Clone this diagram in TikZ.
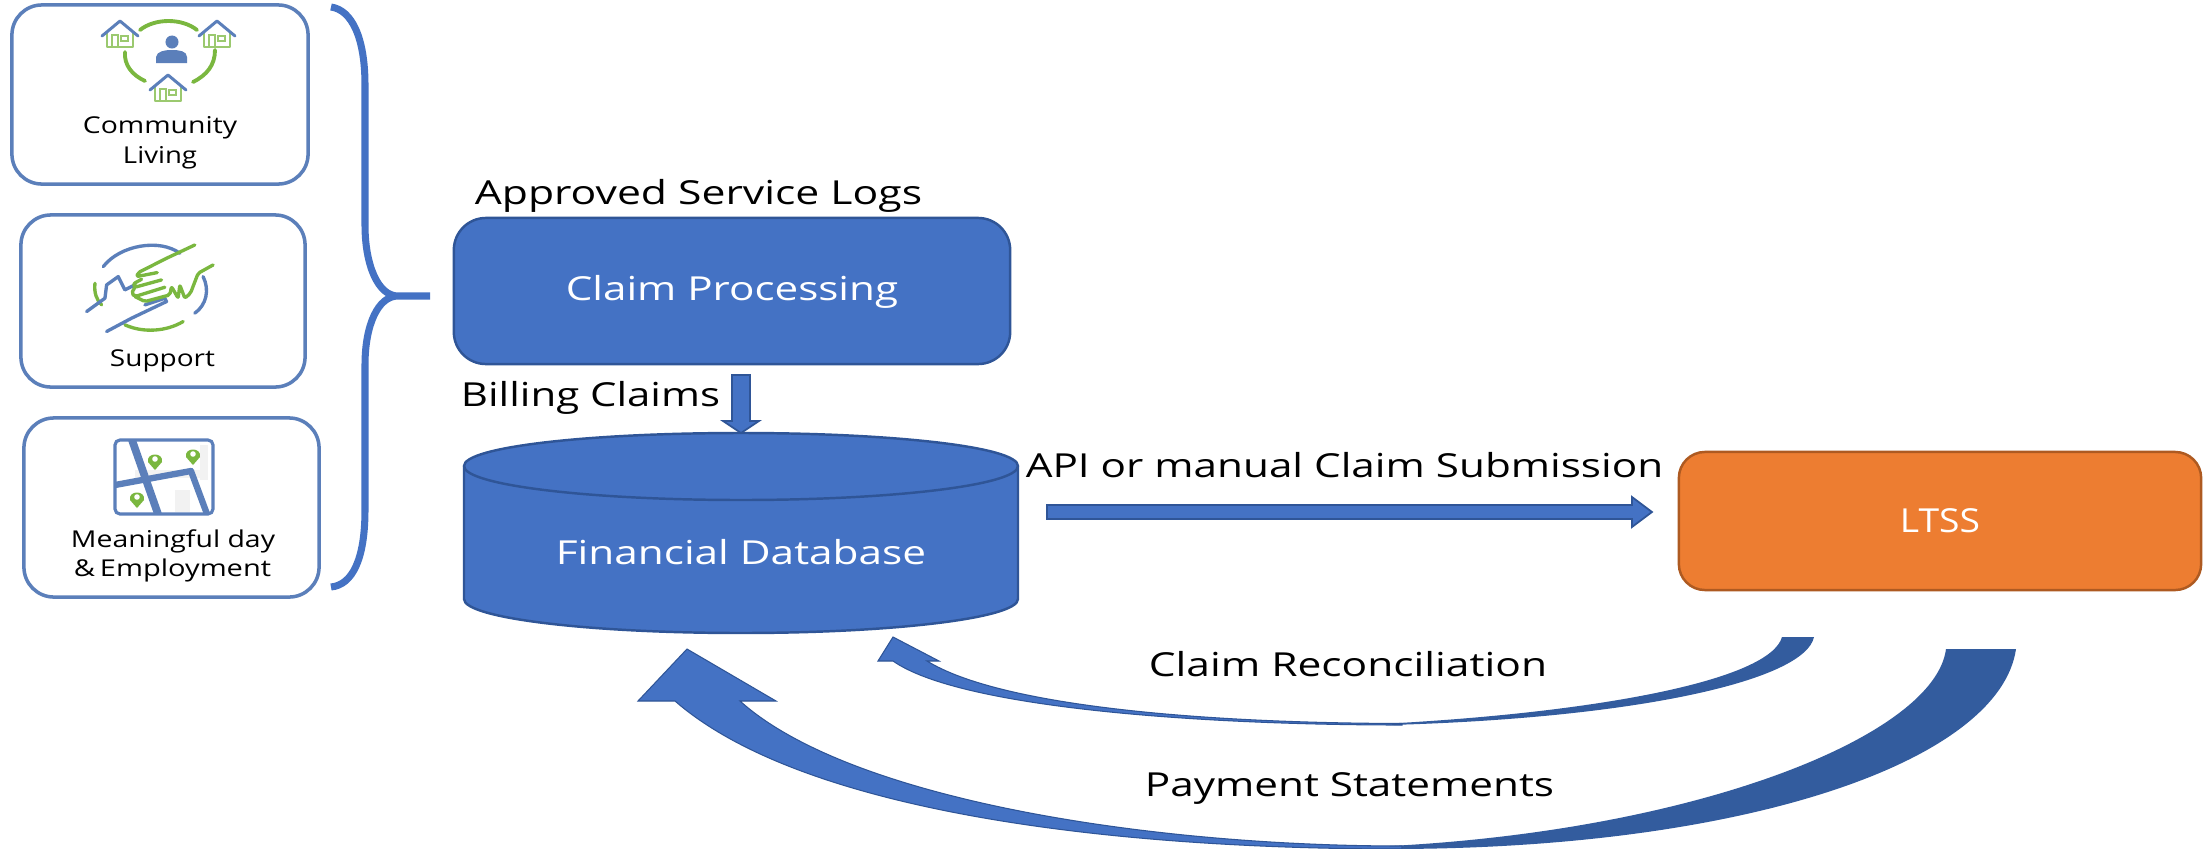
\documentclass[tikz,border=0pt]{standalone}
\usepackage{fontspec}
\usepackage{graphicx}
\setmainfont{Open Sans}
\usetikzlibrary{calc}
\newcommand{\fitT}[3]{{\fontsize{#2}{#2}\selectfont\resizebox{#1cm}{\height}{#3}}}
\definecolor{bfill}{HTML}{4472C4}
\definecolor{bline}{HTML}{2F5597}
\definecolor{bdark}{HTML}{335C9E}
\definecolor{ofill}{HTML}{ED7D31}
\definecolor{oline}{HTML}{AE5A21}
\definecolor{gicon}{HTML}{7AB73F}
\definecolor{bicon}{HTML}{5B7FBA}
\tikzset{
  x=0.01cm,y=-0.01cm,
  cardbox/.style={draw=bicon,line width=1.0pt,rounded corners=0.3cm,fill=white,inner sep=0pt},
  bluebox/.style={draw=bline,line width=0.7pt,fill=bfill,rounded corners=0.32cm,inner sep=0pt,text=white},
  orangebox/.style={draw=oline,line width=0.7pt,fill=ofill,rounded corners=0.26cm,inner sep=0pt,text=white},
  lbl/.style={inner sep=0pt,text=black},
  blockarrow/.style={draw=bline,line width=0.5pt,fill=bfill,line join=miter},
  gline/.style={draw=gicon,line width=0.95pt,line cap=round,line join=round},
  bstroke/.style={draw=bicon,line width=0.95pt,line cap=round,line join=round},
}
\newcommand{\houseicon}[2]{%
  \begin{scope}[shift={(#1,#2)}]
    \draw[gicon!75!white,line width=.65pt,line join=round] (-13,1) -- (-13,15) -- (13,15) -- (13,1);
    \draw[gicon!75!white,line width=.5pt] (-8,15) -- (-8,3) -- (-2,3) -- (-2,15);
    \draw[gicon!75!white,line width=.5pt] (1,4) rectangle (8,9);
    \draw[bicon,line width=.85pt,line join=round,line cap=round] (-18,4) -- (0,-11) -- (18,4);
  \end{scope}}
\newcommand{\pinicon}[2]{%
  \begin{scope}[shift={(#1,#2)}]
    \fill[gicon] (0,10) -- (-7,2) .. controls (-9,-8) and (9,-8) .. (7,2) -- cycle;
    \fill[white] (0,-1) circle[radius=0.028cm];
  \end{scope}}
\begin{document}
\begin{tikzpicture}
\useasboundingbox (0,0) rectangle (2205,848);
\fill[white] (0,0) rectangle (2205,848);

% left cards
\node[cardbox,minimum width=2.96cm,minimum height=1.79cm] (card1) at (160,94.5) {};
\node[cardbox,minimum width=2.84cm,minimum height=1.72cm] (card2) at (163,301) {};
\node[cardbox,minimum width=2.95cm,minimum height=1.79cm] (card3) at (171.5,507.5) {};

% community icon
\draw[gline,line width=1.1pt] (140,30) .. controls (155,18) and (182,18) .. (197,30);
\draw[gline,line width=1.1pt] (125,52) .. controls (124,65) and (132,75) .. (145,81);
\draw[gline,line width=1.1pt] (215,50) .. controls (215,65) and (207,75) .. (193,82);
\houseicon{120}{32}
\houseicon{217}{32}
\houseicon{168}{86}
\fill[bicon] (172,42) circle[radius=0.065cm];
\fill[bicon] (156,63) -- (156,57) .. controls (157,51) and (165,50) .. (172,50) .. controls (179,50) and (187,51) .. (187,57) -- (187,63) -- cycle;
\node[lbl] (t1a) at (160,128) {\fitT{1.54}{6.6}{Community}};
\node[lbl] (t1b) at (160,157.5) {\fitT{0.74}{6.6}{Living}};

% support icon
\begin{scope}[shift={(70,230)},x=0.00333cm,y=-0.00333cm]
  \draw[bstroke] (100,110) .. controls (150,45) and (270,25) .. (330,70);
  \draw[bstroke] (400,140) .. controls (420,180) and (410,225) .. (375,250);
  \draw[gline] (165,285) .. controls (220,310) and (290,305) .. (340,275);
  \draw[gline] (75,160) .. controls (72,190) and (80,210) .. (95,225);
  \draw[bstroke] (50,245) -- (105,205) -- (110,165) -- (145,140) -- (165,180) -- (195,165);
  \draw[bstroke] (110,305) -- (185,265) -- (290,215) -- (285,205) -- (225,225);
  \draw[gline,rounded corners=0.02cm] (375,45) -- (290,85) -- (205,128) -- (200,140) -- (262,128);
  \draw[gline,rounded corners=0.02cm] (215,148) -- (190,162) -- (195,172) -- (275,150);
  \draw[gline,rounded corners=0.02cm] (195,172) -- (185,190) -- (195,200) -- (285,172);
  \draw[gline,rounded corners=0.02cm] (195,200) -- (225,215) -- (300,195) -- (305,170) -- (325,205) -- (330,165) -- (345,205) -- (362,190) -- (385,130) -- (430,105);
\end{scope}
\node[lbl] (t2) at (162.5,361) {\fitT{1.05}{6.6}{Support}};

% map icon
\begin{scope}
  \fill[black!5] (135,470) rectangle (205,478);
  \fill[black!5] (175,490) rectangle (190,512);
  \fill[black!5] (200,445) rectangle (208,480);
  \begin{scope}
    \clip[rounded corners=0.05cm] (115,440) rectangle (213,514);
    \draw[bicon,line width=2.2pt] (132,440) -- (158,514);
    \draw[bicon,line width=1.8pt,line join=round] (115,485) -- (191,471) -- (207,514);
  \end{scope}
  \draw[bicon,line width=0.9pt,rounded corners=0.05cm] (115,440) rectangle (213,514);
\end{scope}
\pinicon{155}{460}
\pinicon{193}{455}
\pinicon{137}{498}
\node[lbl] (t3a) at (173,541) {\fitT{2.04}{6.6}{Meaningful day}};
\node[lbl] (t3b) at (172.5,570) {\fitT{1.97}{6.6}{\&\,Employment}};

% brace
\coordinate (bracetip) at (430,296);
\draw[bfill,line width=2pt,line cap=butt,line join=round]
  (331,7) .. controls (352,10) and (365,38) .. (365,85) -- (365,225)
  .. controls (365,265) and (378,296) .. (398,296) -- (bracetip)
  (398,296) .. controls (378,296) and (365,325) .. (365,365) -- (365,510)
  .. controls (365,560) and (352,585) .. (331,587);

% claim processing
\node[bluebox,minimum width=5.56cm,minimum height=1.46cm] (claim) at (732,291) {};
\node[lbl,text=white] (tclaim) at (732,292) {\fitT{3.32}{9.4}{Claim Processing}};
\node[lbl] (tasl) at (698.5,196) {\fitT{4.47}{9.4}{Approved Service Logs}};
\node[lbl] (tbc) at (590.5,398) {\fitT{2.59}{9.4}{Billing Claims}};

% database
\draw[draw=bline,line width=0.7pt,fill=bfill] (464,466) -- (464,599)
   .. controls (464,618) and (588,633) .. (741,633)
   .. controls (894,633) and (1018,618) .. (1018,599) -- (1018,466)
   .. controls (1018,447) and (894,433) .. (741,433)
   .. controls (588,433) and (464,447) .. (464,466) -- cycle;
\draw[draw=bline,line width=0.7pt] (464,466) .. controls (464,485) and (588,500) .. (741,500)
   .. controls (894,500) and (1018,485) .. (1018,466);
\node[inner sep=0pt,text=white,minimum width=5.54cm,minimum height=1.33cm] (db) at (741,552) {\fitT{3.7}{9.4}{Financial Database}};

% LTSS
\node[orangebox,minimum width=5.22cm,minimum height=1.38cm] (ltss) at (1940,521) {\fitT{0.80}{9.4}{LTSS}};

% billing arrow
\coordinate (billa) at (741,375);
\coordinate (billb) at (741,433);
\draw[blockarrow] ($(billa)+(-9,0)$) -- ($(billa)+(9,0)$) -- ($(billb)+(9,-12)$) -- ($(billb)+(18,-12)$) -- (billb) -- ($(billb)+(-18,-12)$) -- ($(billb)+(-9,-12)$) -- cycle;

% API arrow
\coordinate (apia) at (1047,512);
\coordinate (apib) at (1652,512);
\draw[blockarrow] ($(apia)+(0,-7)$) -- ($(apib)+(-20,-7)$) -- ($(apib)+(-20,-15)$) -- (apib) -- ($(apib)+(-20,15)$) -- ($(apib)+(-20,7)$) -- ($(apia)+(0,7)$) -- cycle;
\node[lbl] (tapi) at (1344.5,465) {\fitT{6.37}{9.4}{API or manual Claim Submission}};

% reconciliation curved arrow
\coordinate (recs) at (1782,637);
\coordinate (rect) at (893,637);
\fill[bdark] (recs) .. controls (1770,680) and (1600,712) .. (1390,723.5)
  -- (1390,725) .. controls (1640,718) and (1805,680) .. (1814,637) -- cycle;
\draw[draw=bline,line width=0.3pt,fill=bfill,line join=miter] (rect) -- (939,661) -- (927,661)
  .. controls (1000,706) and (1200,723) .. (1402,723.5)
  -- (1402,725) .. controls (1200,725) and (960,708) .. (893,661)
  -- (878,661) -- cycle;
\node[lbl] (trec) at (1348,664) {\fitT{3.98}{9.4}{Claim Reconciliation}};

% payment curved arrow
\coordinate (pays) at (1946,649);
\coordinate (payt) at (687,649);
\fill[bdark] (pays) .. controls (1935,735) and (1700,830) .. (1390,846)
  -- (1390,849) .. controls (1750,849) and (2000,760) .. (2016,649) -- cycle;
\draw[draw=bline,line width=0.3pt,fill=bfill,line join=miter] (payt) -- (776,701) -- (740,701)
  .. controls (850,800) and (1150,846) .. (1402,846)
  -- (1402,849) .. controls (1100,849) and (800,810) .. (675,701)
  -- (638,701) -- cycle;
\node[lbl] (tpay) at (1349.5,788) {\fitT{4.09}{9.4}{Payment Statements}};
\end{tikzpicture}
\end{document}
